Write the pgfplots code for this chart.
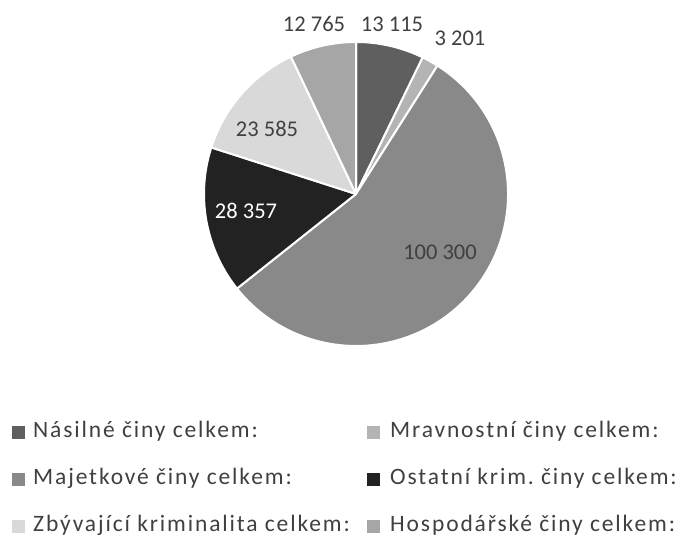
\documentclass[border=0pt]{standalone}
\usepackage{fontspec}
\setmainfont{Carlito}
\newfontfamily\legfont[LetterSpace=8]{Carlito}
\usepackage{pgfplots}
\pgfplotsset{compat=1.18}
\definecolor{slA}{HTML}{5F5F5F}
\definecolor{slB}{HTML}{B4B4B4}
\definecolor{slC}{HTML}{898989}
\definecolor{slD}{HTML}{222222}
\definecolor{slE}{HTML}{D9D9D9}
\definecolor{slF}{HTML}{A6A6A6}
\definecolor{txt}{HTML}{404040}
\frenchspacing
\begin{document}
\begin{tikzpicture}
% values
\def\vA{13115}% Násilné
\def\vB{3201}% Mravnostní
\def\vC{100300}% Majetkové
\def\vD{28357}% Ostatní
\def\vE{23585}% Zbývající
\def\vF{12765}% Hospodářské
\edef\tot{\fpeval{\vA+\vB+\vC+\vD+\vE+\vF}}
\edef\aA{90}
\edef\aB{\fpeval{\aA-360*\vA/\tot}}
\edef\aC{\fpeval{\aB-360*\vB/\tot}}
\edef\aD{\fpeval{\aC-360*\vC/\tot}}
\edef\aE{\fpeval{\aD-360*\vD/\tot}}
\edef\aF{\fpeval{\aE-360*\vE/\tot}}
\edef\aG{\fpeval{\aF-360*\vF/\tot}}
\def\R{152pt}
\begin{axis}[scale only axis, width=690pt, height=537pt,
  xmin=0, xmax=690, ymin=0, ymax=537, hide axis, clip=false]
\addplot[draw=none] coordinates {(0,0) (690,537)};
\path (axis cs:0,0) rectangle (axis cs:690,537);
\fill[slA, draw=white, line width=2pt, line join=round] (axis cs:356,343) -- ++(\aA:\R) arc[start angle=\aA, end angle=\aB, radius=\R] -- cycle;
\fill[slB, draw=white, line width=2pt, line join=round] (axis cs:356,343) -- ++(\aB:\R) arc[start angle=\aB, end angle=\aC, radius=\R] -- cycle;
\fill[slC, draw=white, line width=2pt, line join=round] (axis cs:356,343) -- ++(\aC:\R) arc[start angle=\aC, end angle=\aD, radius=\R] -- cycle;
\fill[slD, draw=white, line width=2pt, line join=round] (axis cs:356,343) -- ++(\aD:\R) arc[start angle=\aD, end angle=\aE, radius=\R] -- cycle;
\fill[slE, draw=white, line width=2pt, line join=round] (axis cs:356,343) -- ++(\aE:\R) arc[start angle=\aE, end angle=\aF, radius=\R] -- cycle;
\fill[slF, draw=white, line width=2pt, line join=round] (axis cs:356,343) -- ++(\aF:\R) arc[start angle=\aF, end angle=\aG, radius=\R] -- cycle;
% data labels
\begin{scope}[every node/.style={inner sep=0pt, font=\fontsize{22.5}{27}\selectfont, text=txt}]
\node at (axis cs:392,513) {13 115};
\node at (axis cs:460,498.5) {3 201};
\node at (axis cs:440,285) {100 300};
\node[text=white] at (axis cs:246,326) {28 357};
\node at (axis cs:267,408) {23 585};
\node at (axis cs:314,513) {12 765};
\end{scope}
% legend
\begin{scope}[every node/.style={inner sep=0pt, anchor=base west, font=\legfont\fontsize{23.5}{28}\selectfont, text=txt}]
\fill[slA] (axis cs:12,97.5) rectangle (axis cs:25,110.5);
\node at (axis cs:33,99) {Násilné činy celkem:};
\fill[slB] (axis cs:367,97.5) rectangle (axis cs:380,110.5);
\node at (axis cs:390,99) {Mravnostní činy celkem:};
\fill[slC] (axis cs:12,50.5) rectangle (axis cs:25,63.5);
\node at (axis cs:33,52) {Majetkové činy celkem:};
\fill[slD] (axis cs:367,50.5) rectangle (axis cs:380,63.5);
\node at (axis cs:390,52) {Ostatní krim.\ činy celkem:};
\fill[slE] (axis cs:12,3.5) rectangle (axis cs:25,16.5);
\node at (axis cs:33,5) {Zbývající kriminalita celkem:};
\fill[slF] (axis cs:367,3.5) rectangle (axis cs:380,16.5);
\node at (axis cs:390,5) {Hospodářské činy celkem:};
\end{scope}
\end{axis}
\end{tikzpicture}
\end{document}
